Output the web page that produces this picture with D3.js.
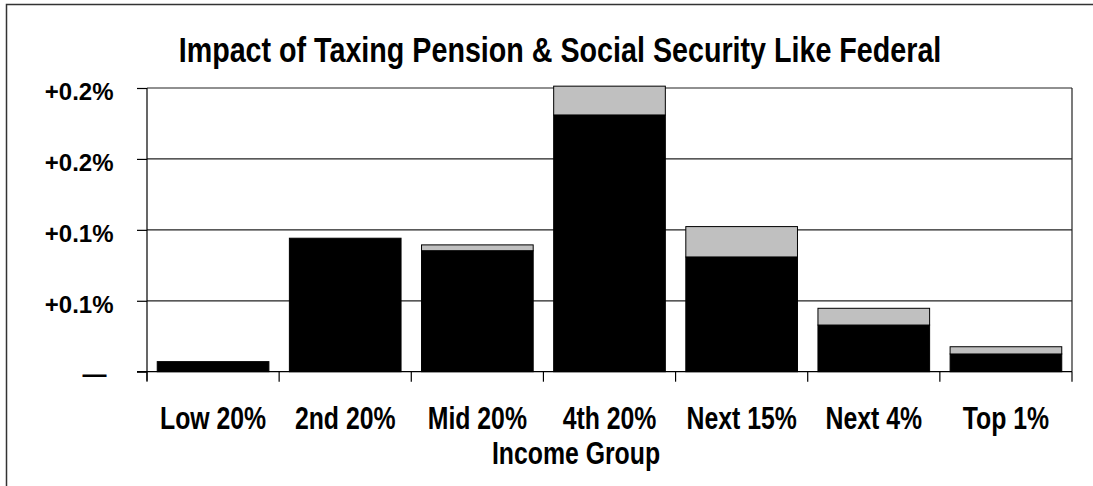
<!DOCTYPE html>
<html>
<head>
<meta charset="utf-8">
<script src="https://cdn.jsdelivr.net/npm/d3@7"></script>
<style>
  body { margin: 0; background: #fff; overflow: hidden; }
  text { font-family: "Liberation Sans", Arial, sans-serif; font-weight: bold; fill: #000; }
</style>
</head>
<body>
<svg id="chart"></svg>
<script>
// data (values in percent)
const categories = ["Low 20%", "2nd 20%", "Mid 20%", "4th 20%", "Next 15%", "Next 4%", "Top 1%"];
const pension = [0.0071, 0.0941, 0.0853, 0.181, 0.0809, 0.0329, 0.0125];
const socialSecurity = [0, 0, 0.0041, 0.0203, 0.0214, 0.0118, 0.0051];
const yTickValues = [0, 0.05, 0.10, 0.15, 0.20];
const yTickLabels = ["—", "+0.1%", "+0.1%", "+0.2%", "+0.2%"];
const title = "Impact of Taxing Pension & Social Security Like Federal";
const xTitle = "Income Group";

const width = 1093, height = 486;
const plot = { left: 147, right: 1072, top: 88, bottom: 371.7 };

const svg = d3.select("#chart").attr("width", width).attr("height", height).style("display", "block");

// outer frame (runs off the right and bottom edges)
svg.append("rect")
  .attr("x", 6.5).attr("y", 4.5)
  .attr("width", 1200).attr("height", 600)
  .attr("fill", "none").attr("stroke", "#333").attr("stroke-width", 1.5);

const x = d3.scaleBand()
  .domain(categories)
  .range([plot.left, plot.right])
  .paddingInner(0.155)
  .paddingOuter(0.0775);

const y = d3.scaleLinear()
  .domain([0, 0.2])
  .range([plot.bottom, plot.top]);

const rows = categories.map((c, i) => ({ cat: c, pension: pension[i], ss: socialSecurity[i] }));
const series = d3.stack().keys(["pension", "ss"])(rows);
const colors = { pension: "#000", ss: "#c0c0c0" };

// gridlines
svg.append("g").selectAll("line")
  .data(yTickValues.slice(1))
  .join("line")
  .attr("x1", plot.left).attr("x2", plot.right)
  .attr("y1", d => y(d)).attr("y2", d => y(d))
  .attr("stroke", "#222").attr("stroke-width", 1.2);

// right border of plot
svg.append("line")
  .attr("x1", plot.right).attr("x2", plot.right)
  .attr("y1", plot.top).attr("y2", plot.bottom)
  .attr("stroke", "#222").attr("stroke-width", 1.2);

// bars
svg.append("g").selectAll("g")
  .data(series)
  .join("g")
  .attr("fill", d => colors[d.key])
  .selectAll("rect")
  .data(d => d.filter(p => p[1] - p[0] > 0))
  .join("rect")
  .attr("x", d => x(d.data.cat))
  .attr("width", x.bandwidth())
  .attr("y", d => y(d[1]))
  .attr("height", d => y(d[0]) - y(d[1]))
  .attr("stroke", "#000")
  .attr("stroke-width", 1);

// y axis
const yAxis = svg.append("g")
  .attr("transform", `translate(${plot.left},0)`)
  .call(d3.axisLeft(y).tickValues(yTickValues).tickFormat((d, i) => yTickLabels[i]).tickSize(10).tickSizeOuter(0));
yAxis.select(".domain").remove();
yAxis.selectAll(".tick line").attr("stroke", "#000").attr("stroke-width", 1.2);
yAxis.selectAll(".tick text")
  .attr("x", -33.5)
  .attr("dy", "0.48em")
  .style("font-size", "24px")
  .style("font-family", "'Liberation Sans', Arial, sans-serif")
  .style("font-weight", "bold")
  .attr("fill", "#000");
yAxis.selectAll(".tick text").filter((d, i) => i === 0).attr("x", -40.5).attr("dy", "0.42em");

svg.append("line")
  .attr("x1", plot.left).attr("x2", plot.left)
  .attr("y1", plot.top).attr("y2", plot.bottom + 9)
  .attr("stroke", "#000").attr("stroke-width", 1.2);

// x axis: line at zero and category-boundary ticks
svg.append("line")
  .attr("x1", plot.left - 10).attr("x2", plot.right)
  .attr("y1", y(0)).attr("y2", y(0))
  .attr("stroke", "#000").attr("stroke-width", 1.2);

const step = x.step();
svg.append("g").selectAll("line")
  .data(d3.range(categories.length + 1))
  .join("line")
  .attr("x1", i => plot.left + i * step).attr("x2", i => plot.left + i * step)
  .attr("y1", y(0)).attr("y2", y(0) + 10)
  .attr("stroke", "#000").attr("stroke-width", 1.2);

// category labels (narrow bold face, squeezed horizontally)
svg.append("g").selectAll("text")
  .data(categories)
  .join("text")
  .attr("transform", d => `translate(${x(d) + x.bandwidth() / 2},429) scale(0.8,1)`)
  .attr("text-anchor", "middle")
  .style("font-size", "31px")
  .text(d => d);

// axis title
svg.append("text")
  .attr("transform", "translate(576,464) scale(0.8,1)")
  .attr("text-anchor", "middle")
  .style("font-size", "31px")
  .text(xTitle);

// chart title, squeezed to the width it has in the reference
const titleText = svg.append("text")
  .attr("text-anchor", "middle")
  .style("font-size", "35px")
  .text(title);
const titleScale = 763 / titleText.node().getComputedTextLength();
titleText.attr("transform", `translate(560,61.5) scale(${titleScale},1)`);
</script>
</body>
</html>
